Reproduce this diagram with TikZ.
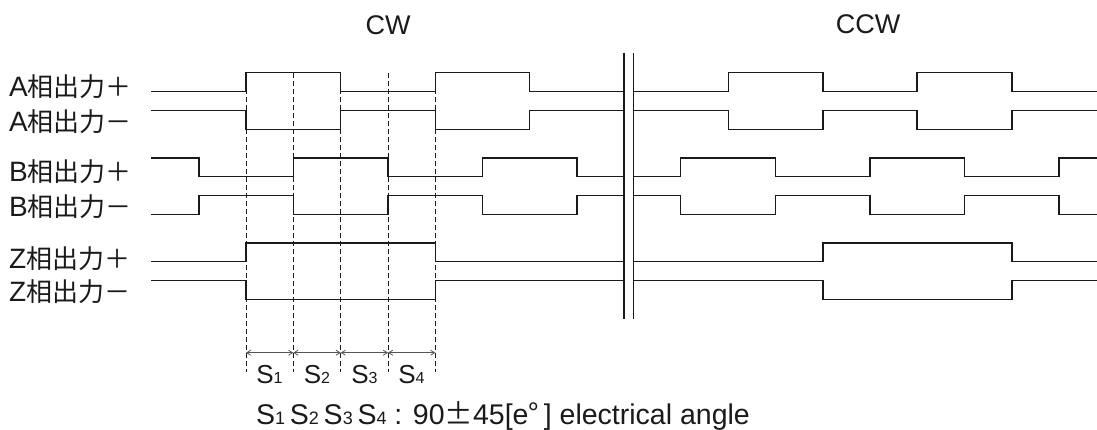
\documentclass[tikz,border=0pt]{standalone}
\usepackage{fontspec}
\setmainfont{Liberation Sans}
\newfontfamily\jpfont{Noto Sans CJK JP}
\usetikzlibrary{arrows.meta}
\definecolor{ink}{HTML}{1A1A1A}
\definecolor{dimc}{HTML}{555555}
\tikzset{
  sig/.style={draw=ink, line width=1.3pt, line join=miter},
  brk/.style={draw=ink, line width=1.3pt},
  guide/.style={draw=ink, line width=0.9pt, dash pattern=on 5pt off 3pt},
  dimarrow/.style={draw=dimc, line width=0.8pt, {Straight Barb[length=4pt,width=5pt]}-{Straight Barb[length=4pt,width=5pt]}},
  lbl/.style={font=\fontsize{28}{28}\selectfont, inner sep=0pt, anchor=base west, text=ink},
  ttl/.style={font=\fontsize{27}{27}\selectfont, inner sep=0pt, text=ink},
  slbl/.style={font=\fontsize{26}{26}\selectfont, inner sep=0pt, anchor=base, text=ink},
  notestyle/.style={font=\fontsize{28.5}{28.5}\selectfont, inner sep=0pt, anchor=base west, text=ink},
}
\newcommand{\subd}[1]{{\fontsize{16}{16}\selectfont #1}}
\newcommand{\subn}[1]{{\fontsize{18}{18}\selectfont #1}}
\newcommand{\jp}[1]{{\jpfont\fontsize{26}{26}\selectfont #1}}
\begin{document}
\begin{tikzpicture}[x=1pt,y=-1pt]
\useasboundingbox (0,0) rectangle (1097,430);
% titles
\node[ttl] (cw) at (388,25) {CW};
\node[ttl] (ccw) at (868,24) {CCW};
% labels
\node[lbl] (la1) at (9,96.7) {A\jp{相出力＋}};
\node[lbl] (la2) at (9,131.7) {A\jp{相出力－}};
\node[lbl] (lb1) at (9,181.7) {B\jp{相出力＋}};
\node[lbl] (lb2) at (9,216.7) {B\jp{相出力－}};
\node[lbl] (lz1) at (9,268.3) {Z\jp{相出力＋}};
\node[lbl] (lz2) at (9,301.7) {Z\jp{相出力－}};
% dashed guides
\foreach \x/\n in {246/g0,293.3/g1,340.7/g2,388/g3,435.3/g4}{
  \coordinate (\n t) at (\x,72.7);
  \coordinate (\n b) at (\x,372);
  \coordinate (\n m) at (\x,352.7);
  \draw[guide] (\n t) -- (\n b);
}
% CW signals
\draw[sig] (151,91.7) -- (246,91.7) -- (246,72.7) -- (340.7,72.7) -- (340.7,91.7) -- (435.3,91.7) -- (435.3,72.7) -- (529.7,72.7) -- (529.7,91.7) -- (624,91.7);
\draw[sig] (151,110.7) -- (246,110.7) -- (246,129.3) -- (340.7,129.3) -- (340.7,110.7) -- (435.3,110.7) -- (435.3,129.3) -- (529.7,129.3) -- (529.7,110.7) -- (624,110.7);
\draw[sig] (151,158) -- (199,158) -- (199,176.7) -- (293.3,176.7) -- (293.3,158) -- (388,158) -- (388,176.7) -- (482.3,176.7) -- (482.3,158) -- (577,158) -- (577,176.7) -- (624,176.7);
\draw[sig] (151,214.3) -- (199,214.3) -- (199,195.7) -- (293.3,195.7) -- (293.3,214.3) -- (388,214.3) -- (388,195.7) -- (482.3,195.7) -- (482.3,214.3) -- (577,214.3) -- (577,195.7) -- (624,195.7);
\draw[sig] (151,261.7) -- (246,261.7) -- (246,243) -- (435.3,243) -- (435.3,261.7) -- (624,261.7);
\draw[sig] (151,280.7) -- (246,280.7) -- (246,299.3) -- (435.3,299.3) -- (435.3,280.7) -- (624,280.7);
% CCW signals
\draw[sig] (633.7,91.7) -- (728.3,91.7) -- (728.3,72.7) -- (823,72.7) -- (823,91.7) -- (917,91.7) -- (917,72.7) -- (1012,72.7) -- (1012,91.7) -- (1098,91.7);
\draw[sig] (633.7,110.7) -- (728.3,110.7) -- (728.3,129.3) -- (823,129.3) -- (823,110.7) -- (917,110.7) -- (917,129.3) -- (1012,129.3) -- (1012,110.7) -- (1098,110.7);
\draw[sig] (633.7,176.7) -- (680.7,176.7) -- (680.7,158) -- (775.7,158) -- (775.7,176.7) -- (870,176.7) -- (870,158) -- (964.7,158) -- (964.7,176.7) -- (1059,176.7) -- (1059,158) -- (1098,158);
\draw[sig] (633.7,195.7) -- (680.7,195.7) -- (680.7,214.3) -- (775.7,214.3) -- (775.7,195.7) -- (870,195.7) -- (870,214.3) -- (964.7,214.3) -- (964.7,195.7) -- (1059,195.7) -- (1059,214.3) -- (1098,214.3);
\draw[sig] (633.7,261.7) -- (823,261.7) -- (823,243) -- (1012,243) -- (1012,261.7) -- (1098,261.7);
\draw[sig] (633.7,280.7) -- (823,280.7) -- (823,299.3) -- (1012,299.3) -- (1012,280.7) -- (1098,280.7);
% break lines
\coordinate (bk1t) at (624,53);
\coordinate (bk1b) at (624,319);
\coordinate (bk2t) at (633.7,53);
\coordinate (bk2b) at (633.7,319);
\draw[brk] (bk1t) -- (bk1b);
\draw[brk] (bk2t) -- (bk2b);
% dimension arrows
\draw[dimarrow] (g0m) -- (g1m);
\draw[dimarrow] (g1m) -- (g2m);
\draw[dimarrow] (g2m) -- (g3m);
\draw[dimarrow] (g3m) -- (g4m);
% S labels
\node[slbl] (s1) at (269.5,383.3) {S\subd{1}};
\node[slbl] (s2) at (317,383.3) {S\subd{2}};
\node[slbl] (s3) at (364.5,383.3) {S\subd{3}};
\node[slbl] (s4) at (411.5,383.3) {S\subd{4}};
% note
\node[notestyle] (note) at (256,424.5) {S\subn{1}\,S\subn{2}\,S\subn{3}\,S\subn{4} : 90{\jpfont ±}45[e{\jpfont °}\,] electrical angle};
\end{tikzpicture}
\end{document}
